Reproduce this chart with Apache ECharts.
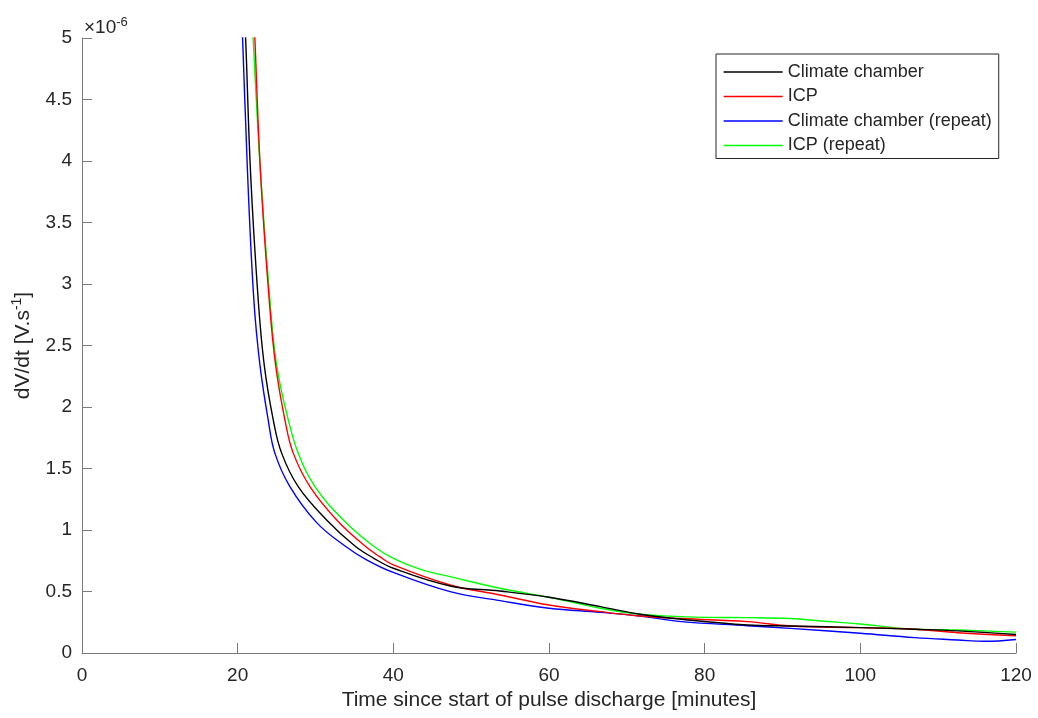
<!DOCTYPE html>
<html>
<head>
<meta charset="utf-8">
<script src="https://cdn.jsdelivr.net/npm/echarts@6/dist/echarts.min.js"></script>
<style>
html,body{margin:0;padding:0;background:#fff;}
#chart{width:1038px;height:718px;}
</style>
</head>
<body>
<div id="chart"></div>
<script>
// Values in units of 1e-6 V/s; x in minutes
var seriesNames = ['Climate chamber', 'ICP', 'Climate chamber (repeat)', 'ICP (repeat)'];
var seriesColors = ['#000000', '#ff0000', '#0000ff', '#00ff00'];

var chamberX = [20.7, 21.02, 21.66, 22.64, 23.41, 24.57, 25.65, 27.78, 31.43, 35.07, 37.5, 40, 47.3, 53.7, 60, 66.6, 71.7, 77, 85.5, 91, 100, 107, 112.5, 120];
var chamberY = [5.4, 5.0, 3.9, 2.87, 2.343, 1.896, 1.625, 1.353, 1.082, 0.87, 0.77, 0.689, 0.545, 0.504, 0.453, 0.377, 0.315, 0.274, 0.228, 0.22, 0.206, 0.193, 0.18, 0.15];

var icpX = [21.95, 22.21, 22.94, 24.05, 24.87, 26.07, 27.14, 29.29, 32.72, 36.36, 38.2, 40, 47.3, 53.7, 60, 66.6, 71.7, 77, 85.5, 91, 100, 107, 112.5, 120];
var icpY = [5.4, 5.0, 3.9, 2.87, 2.343, 1.896, 1.625, 1.353, 1.082, 0.87, 0.785, 0.716, 0.553, 0.472, 0.39, 0.336, 0.301, 0.28, 0.255, 0.22, 0.206, 0.193, 0.165, 0.14];

var repeatChamberX = [20.3, 20.63, 21.27, 22.08, 22.86, 23.92, 24.78, 26.71, 30.15, 33.79, 36.5, 40, 47.3, 53.7, 60, 66.6, 71.7, 77, 85.5, 91, 100, 107, 112.5, 116, 120];
var repeatChamberY = [5.4, 5.0, 3.9, 2.87, 2.343, 1.896, 1.625, 1.353, 1.06, 0.87, 0.76, 0.655, 0.499, 0.426, 0.364, 0.331, 0.301, 0.255, 0.222, 0.2, 0.16, 0.125, 0.106, 0.095, 0.11];

var repeatIcpX = [21.75, 21.99, 22.94, 24.14, 25.0, 26.5, 27.78, 29.93, 33.57, 37.43, 40, 43.5, 47.3, 53.7, 60, 66.6, 71.7, 77, 80, 85.5, 91, 95, 100, 107, 112.5, 120];
var repeatIcpY = [5.4, 5.0, 3.9, 2.87, 2.343, 1.896, 1.625, 1.353, 1.082, 0.87, 0.77, 0.68, 0.621, 0.526, 0.453, 0.364, 0.315, 0.296, 0.29, 0.288, 0.28, 0.26, 0.236, 0.193, 0.187, 0.17];

var xTicks = [0, 20, 40, 60, 80, 100, 120];
var yTicks = [0, 0.5, 1, 1.5, 2, 2.5, 3, 3.5, 4, 4.5, 5];

function zip(xs, ys) { return xs.map(function (x, i) { return [x, ys[i]]; }); }
var allData = [zip(chamberX, chamberY), zip(icpX, icpY), zip(repeatChamberX, repeatChamberY), zip(repeatIcpX, repeatIcpY)];

var font = "'Liberation Sans', Arial, Helvetica, sans-serif";
var axisGray = '#7a7a7a';
var textDark = '#262626';

var chart = echarts.init(document.getElementById('chart'), null, {renderer: 'canvas'});
var option = {
  backgroundColor: '#ffffff',
  animation: false,
  grid: {left: 82, right: 22, top: 38, bottom: 65, containLabel: false},
  graphic: [{
    type: 'text', left: 84, top: 16,
    style: {
      text: '×10{sup|-6}',
      font: '19px ' + font,
      fill: textDark,
      rich: {sup: {fontSize: 13, fontFamily: font, verticalAlign: 'top', padding: [0, 0, 10, 0]}}
    }
  }],
  legend: {
    orient: 'vertical', left: 716, top: 54,
    padding: [9, 7, 4, 7],
    itemWidth: 59, itemHeight: 14, itemGap: 6.5,
    borderColor: '#262626', borderWidth: 1, backgroundColor: '#ffffff',
    itemStyle: {opacity: 0},
    lineStyle: {width: 1.3},
    textStyle: {fontSize: 18, fontFamily: font, color: textDark},
    data: seriesNames
  },
  xAxis: {
    type: 'value', min: 0, max: 120, interval: 20,
    name: 'Time since start of pulse discharge [minutes]',
    nameLocation: 'middle', nameGap: 28,
    nameTextStyle: {fontSize: 21, fontFamily: font, color: textDark},
    axisLine: {show: true, lineStyle: {color: axisGray, width: 1}},
    axisTick: {show: true, inside: true, length: 10, lineStyle: {color: axisGray}},
    axisLabel: {fontSize: 19, fontFamily: font, color: textDark, margin: 13,
      formatter: function (v) { return xTicks.indexOf(v) >= 0 ? String(v) : ''; }},
    splitLine: {show: false}
  },
  yAxis: {
    type: 'value', min: 0, max: 5, interval: 0.5,
    name: 'dV/dt [V.s{sup|-1}]',
    nameLocation: 'middle', nameGap: 46,
    nameTextStyle: {fontSize: 21, fontFamily: font, color: textDark,
      rich: {sup: {fontSize: 14, fontFamily: font, color: textDark, verticalAlign: 'top', padding: [0, 0, 12, 0]}}},
    axisLine: {show: true, lineStyle: {color: axisGray, width: 1}},
    axisTick: {show: true, inside: true, length: 10, lineStyle: {color: axisGray}},
    axisLabel: {fontSize: 19, fontFamily: font, color: textDark, margin: 10,
      formatter: function (v) { return yTicks.indexOf(v) >= 0 ? String(v) : ''; }},
    splitLine: {show: false}
  },
  series: seriesNames.map(function (name, i) {
    return {
      name: name, type: 'line', data: allData[i],
      symbol: 'none', smooth: 0.4, clip: true,
      lineStyle: {color: seriesColors[i], width: 1.4},
      itemStyle: {color: seriesColors[i], opacity: 0},
      z: 10 - i
    };
  })
};
chart.setOption(option);
</script>
</body>
</html>
